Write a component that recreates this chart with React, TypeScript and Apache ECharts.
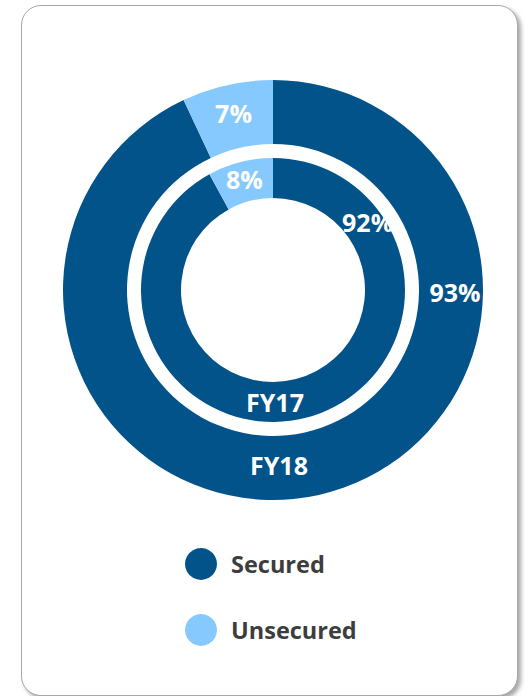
import React, { useEffect, useRef } from "react";
import * as echarts from "echarts";

const categories = ["Secured", "Unsecured"];
const fy18Values = [93, 7];
const fy17Values = [92, 8];
const ringLabels = ["FY18", "FY17"];
const colors = ["#02538A", "#86C9FE"];

const FONT = "'Open Sans', sans-serif";

export default function App() {
  const ref = useRef<HTMLDivElement>(null);
  useEffect(() => {
    const chart = echarts.init(ref.current!, null, { renderer: "svg" });
    const cx = 273;
    const cy = 290;
    const outer = [146, 210];
    const inner = [92, 132];
    const midO = (outer[0] + outer[1]) / 2;
    const midI = (inner[0] + inner[1]) / 2;
    const mkData = (vals: number[]) =>
      categories.map((c, i) => ({
        name: c,
        value: vals[i],
        itemStyle: { color: colors[i] },
        label: { show: i === 1 },
      }));
    const labelStyle = {
      color: "#ffffff",
      fontFamily: FONT,
      fontWeight: "bold",
      fontSize: 25,
    };
    const txt = (x: number, y: number, t: string) => ({
      type: "text",
      x,
      y,
      style: { text: t, ...labelStyle, fill: "#ffffff", align: "center", verticalAlign: "middle" },
      z: 10,
    });
    const a54 = (54 * Math.PI) / 180;
    chart.setOption({
      animation: false,
      legend: {
        data: categories,
        orient: "vertical",
        left: 180,
        top: 543,
        icon: "circle",
        itemWidth: 32,
        itemHeight: 32,
        itemGap: 34,
        selectedMode: false,
        textStyle: {
          fontFamily: FONT,
          fontWeight: "bold",
          fontSize: 23.5,
          color: "#3d3d3d",
          padding: [0, 0, 0, 9],
        },
      },
      series: [
        {
          type: "pie",
          name: ringLabels[0],
          center: [cx, cy],
          radius: outer,
          startAngle: 90,
          clockwise: true,
          silent: true,
          label: { position: "inside", formatter: "{c}%", ...labelStyle },
          labelLine: { show: false },
          data: mkData(fy18Values),
        },
        {
          type: "pie",
          name: ringLabels[1],
          center: [cx, cy],
          radius: inner,
          startAngle: 90,
          clockwise: true,
          silent: true,
          label: { position: "inside", formatter: "{c}%", ...labelStyle },
          labelLine: { show: false },
          data: mkData(fy17Values),
        },
      ],
      graphic: [
        txt(cx + midO + 4, cy + 2, fy18Values[0] + "%"),
        txt(cx + midI * Math.sin(a54) + 4, cy - midI * Math.cos(a54) - 2, fy17Values[0] + "%"),
        txt(cx + 6, cy + midO - 3, ringLabels[0]),
        txt(cx + 2, cy + midI, ringLabels[1]),
      ],
    });
    return () => chart.dispose();
  }, []);
  return (
    <div style={{ position: "absolute", left: 0, top: 0, width: 529, height: 696, background: "#fff", overflow: "hidden" }}>
      <div
        style={{
          position: "absolute",
          left: 21,
          top: 5,
          width: 495,
          height: 689,
          border: "1px solid #a8a8a8",
          borderRadius: 20,
          boxShadow: "3px 3px 4px rgba(0,0,0,0.35)",
          background: "#fff",
        }}
      />
      <div ref={ref} style={{ position: "absolute", left: 0, top: 0, width: 529, height: 696 }} />
    </div>
  );
}
